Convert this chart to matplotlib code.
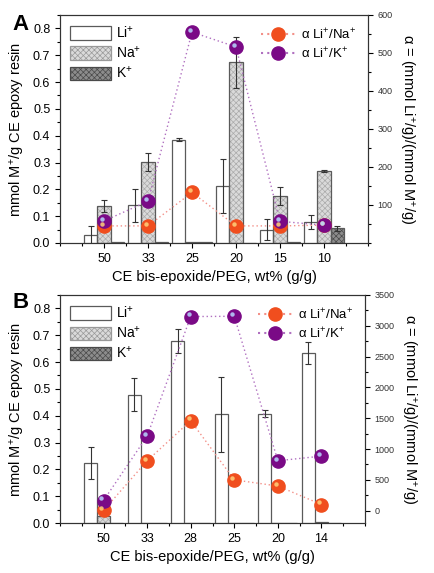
import numpy as np
import matplotlib
matplotlib.use('Agg')
import matplotlib.pyplot as plt
from matplotlib.transforms import offset_copy
from matplotlib.patches import Patch
from matplotlib.lines import Line2D
from matplotlib.ticker import MultipleLocator

plt.rcParams['font.family'] = ['Liberation Sans', 'DejaVu Sans']
plt.rcParams['hatch.linewidth'] = 0.5
plt.rcParams['mathtext.fontset'] = 'custom'
plt.rcParams['mathtext.rm'] = 'Liberation Sans'
plt.rcParams['mathtext.it'] = 'Liberation Sans:italic'

# ---------------- data: panel A ----------------
cats_A = ['50', '33', '25', '20', '15', '10']
li_A = [0.028, 0.140, 0.385, 0.212, 0.050, 0.077]
li_err_A = [0.034, 0.063, 0.005, 0.100, 0.038, 0.026]
na_A = [0.137, 0.302, 0.005, 0.673, 0.175, 0.268]
na_err_A = [0.022, 0.032, 0.0, 0.095, 0.033, 0.003]
k_A = [0.002, 0.002, 0.002, 0.0, 0.003, 0.055]
k_err_A = [0.0, 0.0, 0.0, 0.0, 0.0, 0.010]
alpha_na_A = [45, 45, 133, 45, 45, 47]
alpha_k_A = [58, 110, 555, 516, 57, 47]

# ---------------- data: panel B ----------------
cats_B = ['50', '33', '28', '25', '20', '14']
li_B = [0.225, 0.478, 0.680, 0.405, 0.408, 0.633]
li_err_B = [0.060, 0.062, 0.045, 0.140, 0.013, 0.042]
na_B = [0.025, 0.001, 0.001, 0.001, 0.001, 0.005]
na_err_B = [0, 0, 0, 0, 0, 0]
k_B = [0.001, 0.001, 0.001, 0.001, 0.001, 0.001]
k_err_B = [0, 0, 0, 0, 0, 0]
alpha_na_B = [5, 810, 1460, 500, 400, 100]
alpha_k_B = [165, 1210, 3150, 3155, 810, 885]

NA_FACE, NA_HATCH = '#dadada', '#ababab'
K_FACE, K_HATCH = '#8c8c8c', '#4a4a4a'
EDGE = '#5a5a5a'
OR_C, OR_H = '#f04e1e', '#ffd27a'
PU_C, PU_H = '#7a0a86', '#b8d8ff'
OR_L, PU_L = '#f39088', '#b070c0'


def hatched_bars(ax, x, h, face, hcol, width):
    ax.bar(x, h, width, color=face, edgecolor=hcol, hatch='xxxxxx', lw=0, zorder=2)
    ax.bar(x, h, width, facecolor='none', edgecolor=EDGE, lw=0.9, zorder=3)


def balls(ax, x, y, col, hcol, lcol):
    ax.plot(x, y, ls=(0, (1, 2)), color=lcol, lw=1.0, zorder=4)
    ax.plot(x, y, 'o', ms=9.5, color=col, mec=col, zorder=5, ls='none')
    tr = offset_copy(ax.transData, fig=ax.figure, x=-1.5, y=1.6, units='points')
    ax.plot(x, y, 'o', ms=3.2, color=hcol, mec='none', alpha=0.85, zorder=6,
            transform=tr, ls='none')


def panel(ax, cats, li, li_e, na, na_e, k, k_e, a_na, a_k, rlim, rticks, rminor, letter, ly):
    x = np.arange(1, len(cats) + 1)
    w = 0.3
    ax.bar(x - w, li, w, facecolor='white', edgecolor=EDGE, lw=0.9, zorder=3)
    hatched_bars(ax, x, na, NA_FACE, NA_HATCH, w)
    hatched_bars(ax, x + w, k, K_FACE, K_HATCH, w)
    ekw = dict(fmt='none', ecolor='#333333', elinewidth=0.8, capsize=2.5, capthick=0.8, zorder=4)
    ax.errorbar(x - w, li, yerr=li_e, **ekw)
    nae = np.array(na_e, float)
    m = nae > 0
    ax.errorbar(x[m], np.array(na)[m], yerr=nae[m], **ekw)
    kee = np.array(k_e, float)
    m = kee > 0
    ax.errorbar((x + w)[m], np.array(k)[m], yerr=kee[m], **ekw)

    ax.set_xlim(0, 7)
    ax.set_ylim(0, 0.85)
    ax.set_xticks(x)
    ax.set_xticklabels(cats, fontsize=9)
    ax.xaxis.set_minor_locator(MultipleLocator(0.5))
    ax.yaxis.set_minor_locator(MultipleLocator(0.05))
    ax.set_yticks(np.arange(0, 0.81, 0.1))
    ax.set_yticklabels(['%.1f' % v for v in np.arange(0, 0.81, 0.1)], fontsize=9)
    ax.tick_params(which='both', direction='out', length=3.5, width=0.8)
    ax.tick_params(which='minor', length=2)
    ax.set_ylabel('mmol M$^{+}$/g CE epoxy resin', fontsize=10.5, labelpad=4)
    ax.set_xlabel('CE bis-epoxide/PEG, wt% (g/g)', fontsize=10.5, labelpad=4)

    ax2 = ax.twinx()
    ax2.set_ylim(*rlim)
    ax2.set_yticks(rticks)
    ax2.set_yticklabels([str(t) for t in rticks], fontsize=6.5, color='#333333')
    ax2.yaxis.set_minor_locator(MultipleLocator(rminor))
    ax2.tick_params(which='both', direction='out', length=3.5, width=0.8)
    ax2.tick_params(which='minor', length=2)
    ax2.set_ylabel('\u03b1 = (mmol Li$^{+}$/g)/(mmol M$^{+}$/g)', fontsize=10.5,
                   rotation=270, labelpad=17)
    balls(ax2, x, a_na, OR_C, OR_H, OR_L)
    balls(ax2, x, a_k, PU_C, PU_H, PU_L)
    for a in (ax, ax2):
        for s in a.spines.values():
            s.set_linewidth(0.8)
            s.set_color('#333333')

    h1 = [Patch(facecolor='white', edgecolor=EDGE, lw=0.9),
          Patch(facecolor=NA_FACE, edgecolor='#999999', hatch='xxxxxx', lw=0.9),
          Patch(facecolor=K_FACE, edgecolor='#4a4a4a', hatch='xxxxxx', lw=0.9)]
    leg1 = ax2.legend(h1, ['Li$^{+}$', 'Na$^{+}$', 'K$^{+}$'], loc='upper left',
                      frameon=False, fontsize=10, handlelength=3.0, handleheight=1.1,
                      handletextpad=0.3, labelspacing=0.3, borderaxespad=0.3)
    ax2.add_artist(leg1)
    h2 = [Line2D([], [], ls=(0, (1, 2)), color=OR_L, marker='o', ms=9.5,
                 mfc=OR_C, mec=OR_C),
          Line2D([], [], ls=(0, (1, 2)), color=PU_L, marker='o', ms=9.5,
                 mfc=PU_C, mec=PU_C)]
    ax2.legend(h2, ['\u03b1 Li$^{+}$/Na$^{+}$', '\u03b1 Li$^{+}$/K$^{+}$'],
               loc='upper right', frameon=False, fontsize=9.5, handlelength=2.6,
               handletextpad=0.4, labelspacing=0.3, borderaxespad=0.5)
    ax.figure.text(0.028, ly, letter, fontsize=16, fontweight='bold', va='center')
    return ax2


fig = plt.figure(figsize=(4.34, 5.73), dpi=100)
axA = fig.add_axes([60 / 434, 1 - 243 / 573, 308 / 434, 228 / 573])
axB = fig.add_axes([60 / 434, 1 - 523 / 573, 305 / 434, 228 / 573])

panel(axA, cats_A, li_A, li_err_A, na_A, na_err_A, k_A, k_err_A, alpha_na_A, alpha_k_A,
      (0, 600), [100, 200, 300, 400, 500, 600], 50, 'A', 1 - 24 / 573)
panel(axB, cats_B, li_B, li_err_B, na_B, na_err_B, k_B, k_err_B, alpha_na_B, alpha_k_B,
      (-200, 3500), list(range(0, 3501, 500)), 250, 'B', 1 - 303 / 573)

fig.savefig('out.png', dpi=100)
